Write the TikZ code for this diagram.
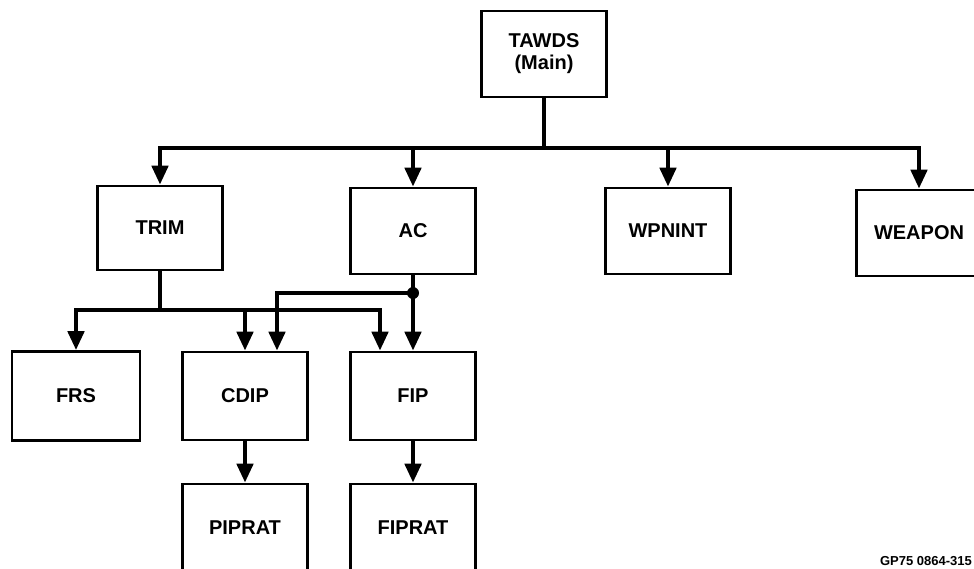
\documentclass[tikz,border=0pt]{standalone}
\usepackage{fontspec}
\setmainfont{Liberation Sans}
\usetikzlibrary{arrows.meta}
\begin{document}
\begin{tikzpicture}[x=1pt, y=-1pt,
    modbox/.style={rectangle, draw, line width=2.6pt, fill=white, minimum width=125pt, minimum height=86pt, inner sep=2pt, font=\fontsize{20}{22}\selectfont\bfseries, align=center},
    link/.style={line width=4.5pt, -{Triangle[length=19pt, width=16pt]}},
    bar/.style={line width=4.5pt}]
        \useasboundingbox (0,0) rectangle (974,568);
        \node[modbox] (tawds) at (544,54) {TAWDS\\(Main)};
        \node[modbox, minimum height=84pt] (trim) at (160,228) {TRIM};
        \node[modbox] (ac) at (413,231) {AC};
        \node[modbox] (wpnint) at (668,231) {WPNINT};
        \node[modbox] (weapon) at (919,233) {WEAPON};
        \node[modbox, minimum width=128pt, minimum height=89pt] (frs) at (76,396) {FRS};
        \node[modbox, minimum height=88pt] (cdip) at (245,396) {CDIP};
        \node[modbox, minimum height=88pt] (fip) at (413,396) {FIP};
        \node[modbox, minimum height=88pt] (piprat) at (245,528) {PIPRAT};
        \node[modbox, minimum height=88pt] (fiprat) at (413,528) {FIPRAT};
        % main bus
        \coordinate (mbus) at (544,148);
        \draw[bar] (tawds.south) -- (mbus);
        \draw[link] (mbus) -| (trim.north);
        \draw[link] (mbus) -| (ac.north);
        \draw[link] (mbus) -| (wpnint.north);
        \draw[link] (mbus) -| (weapon.north);
        % TRIM calls
        \coordinate (tbus) at (160,310);
        \draw[bar] (trim.south) -- (tbus);
        \draw[link] (tbus) -| (frs.north);
        \draw[link] (tbus) -| (cdip.north);
        \draw[link] (tbus) -| ([xshift=-33pt]fip.north);
        % AC calls
        \coordinate (adot) at (413,293);
        \draw[link] (ac.south) -- (fip.north);
        \fill (adot) circle (6pt);
        \draw[link] (adot) -| ([xshift=32pt]cdip.north);
        \draw[link] (cdip.south) -- (piprat.north);
        \draw[link] (fip.south) -- (fiprat.north);
        \node[anchor=south east, inner sep=0pt, font=\fontsize{13}{13}\selectfont\bfseries] (fignum) at (972,566) {GP75 0864-315};
\end{tikzpicture}
\end{document}
